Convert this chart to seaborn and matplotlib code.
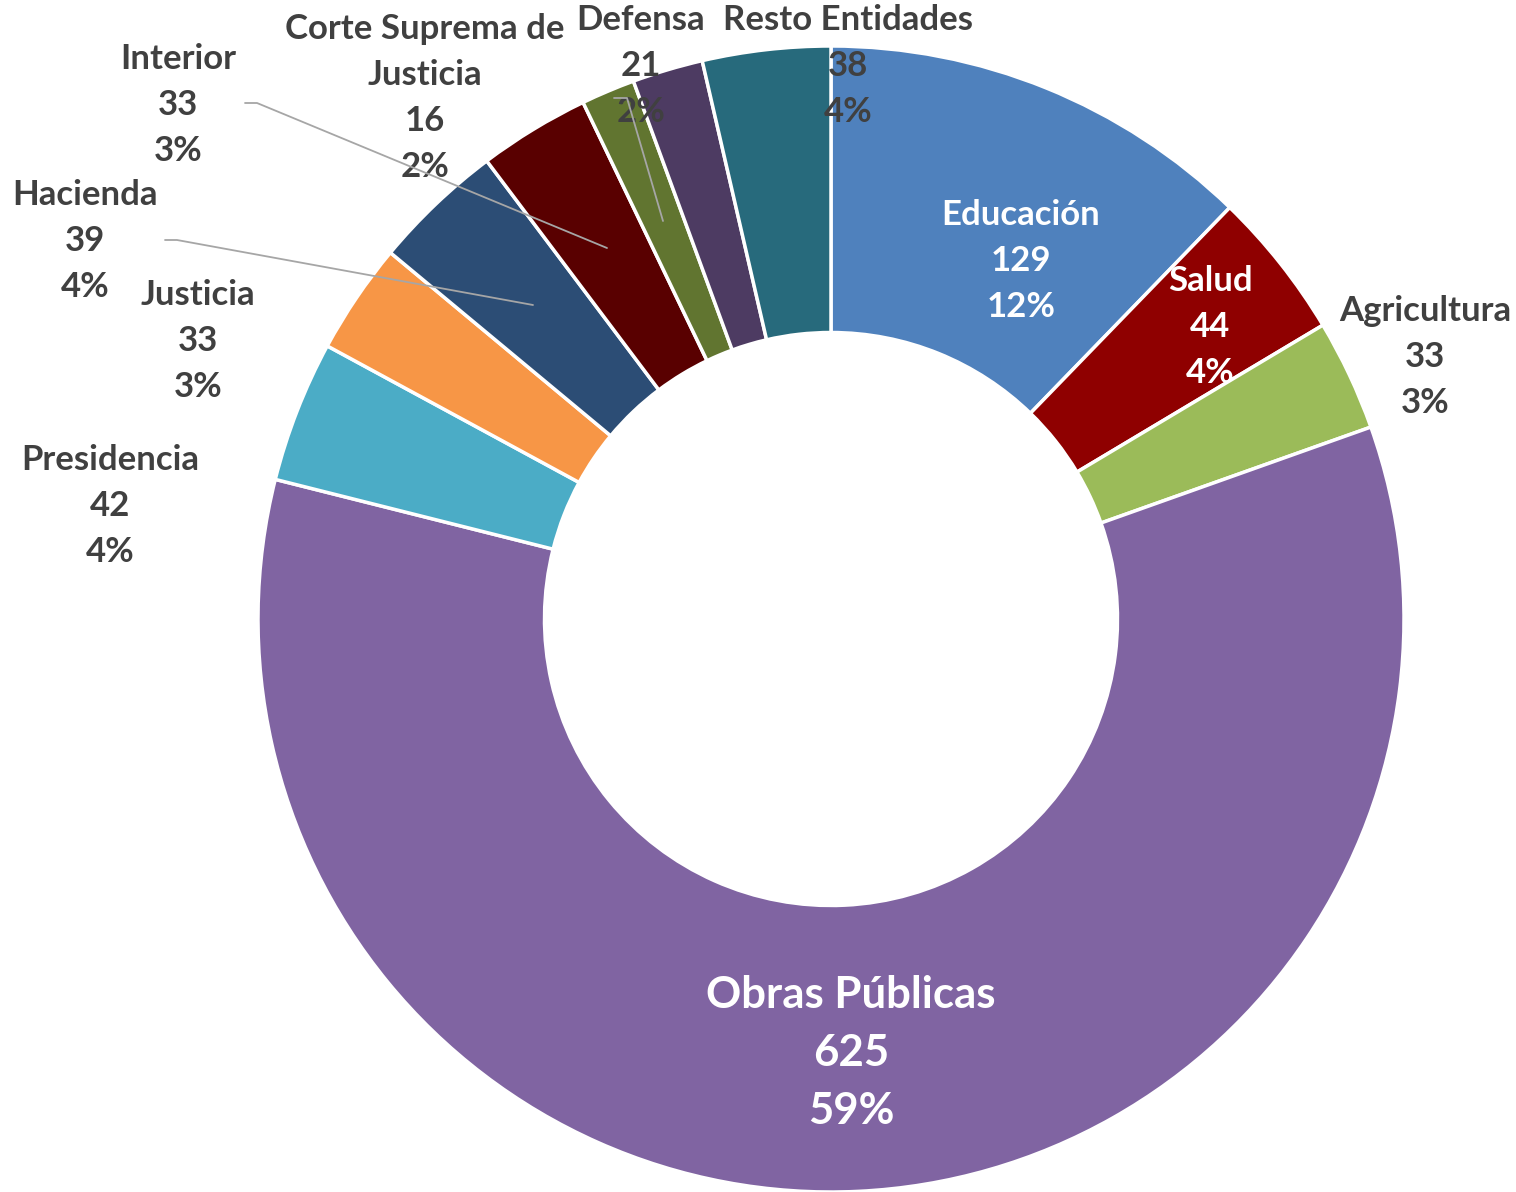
import matplotlib
matplotlib.use("Agg")
import matplotlib.pyplot as plt
import seaborn as sns

# Execution by entity (values), clockwise from the top
entidades = ["Educación", "Salud", "Agricultura", "Obras Públicas", "Presidencia",
             "Justicia", "Hacienda", "Interior", "Corte Suprema de\nJusticia",
             "Defensa", "Resto Entidades"]
valores = [129, 44, 33, 625, 42, 33, 39, 33, 16, 21, 38]
colores = ["#4F81BD", "#8F0000", "#9BBB59", "#8064A2", "#4BACC6",
           "#F79646", "#2C4D75", "#590000", "#617530", "#4D3B62", "#276A7C"]

sns.set_theme(style="white")
plt.rcParams["font.family"] = ["Lato", "DejaVu Sans"]

W, H = 1516, 1192
CX, CY, R = 831, 619, 573  # pie centre and radius in pixels

fig = plt.figure(figsize=(W / 100, H / 100), dpi=100)
ax = fig.add_axes([0, 0, 1, 1])
ax.pie(valores, colors=colores, startangle=90, counterclock=False, radius=1,
       wedgeprops=dict(width=0.5, edgecolor="white", linewidth=2.5))
ax.set_xlim(-CX / R, (W - CX) / R)
ax.set_ylim(-(H - CY) / R, CY / R)
ax.set_aspect("equal")
ax.axis("off")


def px(x, y):
    return (x - CX) / R, (CY - y) / R


total = sum(valores)
# label centre (pixels), text colour, font size
etiquetas = [
    ((1021, 261), "white", 25),
    ((1210, 327), "white", 25),
    ((1425, 357), "#404040", 25),
    ((851, 1053), "white", 31.5),
    ((110, 506), "#404040", 25),
    ((198, 341), "#404040", 25),
    ((85, 241), "#404040", 25),
    ((178, 105), "#404040", 25),
    ((425, 98), "#404040", 25),
    ((641, 66), "#404040", 25),
    ((848, 66), "#404040", 25),
]
for nombre, v, ((x, y), c, fs) in zip(entidades, valores, etiquetas):
    pct = round(v / total * 100)
    ax.text(*px(x, y), f"{nombre}\n{v}\n{pct}%", ha="center", va="center",
            color=c, fontsize=fs, fontweight="bold", linespacing=1.55)

# leader lines for labels placed outside their wedge
guias = [
    [(165, 240), (177, 240), (533, 305)],
    [(245, 103), (257, 103), (607, 248)],
    [(614, 98), (627, 98), (663, 221)],
]
for g in guias:
    xs, ys = zip(*[px(a, b) for a, b in g])
    ax.plot(xs, ys, color="#A6A6A6", lw=1.3, zorder=5)

fig.savefig("out.png", dpi=100, facecolor="white")
